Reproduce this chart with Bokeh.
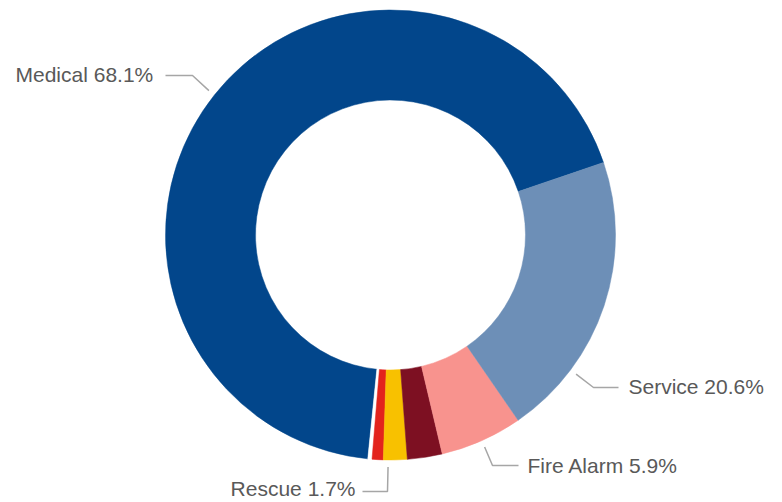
import math
from bokeh.plotting import figure
from bokeh.models import Range1d, ColumnDataSource
from bokeh.embed import file_html
from bokeh.resources import INLINE
from bokeh.core.properties import value

# ---- data (percent of calls) ----
categories = ["Medical", "Other", "Fire", "Rescue", "Hazmat", "Fire Alarm", "Service"]
shares = [68.1, 0.3, 0.8, 1.7, 2.5, 5.9, 20.6]
colors = ["#02468b", "#ffffff", "#e3231c", "#f8c100", "#7d1022", "#f8938e", "#6d8fb7"]

# labelled slices
labelled = ["Medical", "Service", "Fire Alarm", "Rescue"]

# ---- layout ----
W, H = 782, 502
CX, CY = 390, H - 234.5
R_OUT, R_IN = 225, 135
START_DEG = 18.8

# label layout in pixel coordinates from the top-left
label_layout = {
    #            text_x, text_y, align,  line_y, elbow_x, end_x, frac
    "Medical":    (15,  74,  "left",  75,  192, 165, 0.5),
    "Service":    (628, 386, "left",  387, 593, 618, 0.25),
    "Fire Alarm": (527, 465, "left",  465, 492, 518, 0.5),
    "Rescue":     (355, 488, "right", 491, 387, 362, 0.2),
}

total = sum(shares)
starts, ends = [], []
a = math.radians(START_DEG)
for s in shares:
    span = 2 * math.pi * s / total
    starts.append(a)
    ends.append(a + span)
    a += span

src = ColumnDataSource(dict(cat=categories, share=shares, color=colors,
                            start=starts, end=ends))

p = figure(width=W, height=H,
           x_range=Range1d(0, W), y_range=Range1d(0, H),
           output_backend="svg", toolbar_location=None,
           x_axis_location=None, y_axis_location=None, min_border=0)
p.grid.visible = False
p.outline_line_color = None
p.background_fill_color = "white"

p.annular_wedge(x=CX, y=CY, inner_radius=R_IN, outer_radius=R_OUT,
                start_angle="start", end_angle="end", direction="anticlock",
                fill_color="color", line_color="color", line_width=0.5,
                source=src)

lx, ly, tx, ty, tt, ta = [], [], [], [], [], []
for cat in labelled:
    i = categories.index(cat)
    text_x, text_y, align, line_y, elbow_x, end_x, frac = label_layout[cat]
    ang = starts[i] + frac * (ends[i] - starts[i])
    sx = CX + (R_OUT + 7) * math.cos(ang)
    sy = CY + (R_OUT + 7) * math.sin(ang)
    lx.append([sx, elbow_x, end_x])
    ly.append([sy, H - line_y, H - line_y])
    tx.append(text_x)
    ty.append(H - text_y)
    tt.append(f"{cat} {shares[i]:.1f}%")
    ta.append(align)

p.multi_line(xs=lx, ys=ly, line_color="#a6a6a6", line_width=1.5)
p.text(x=tx, y=ty, text=tt, text_align=ta, text_baseline="middle",
       text_font=value("Liberation Sans"), text_font_size="21px",
       text_color="#595959")

open("out.html", "w").write(file_html(p, INLINE))
